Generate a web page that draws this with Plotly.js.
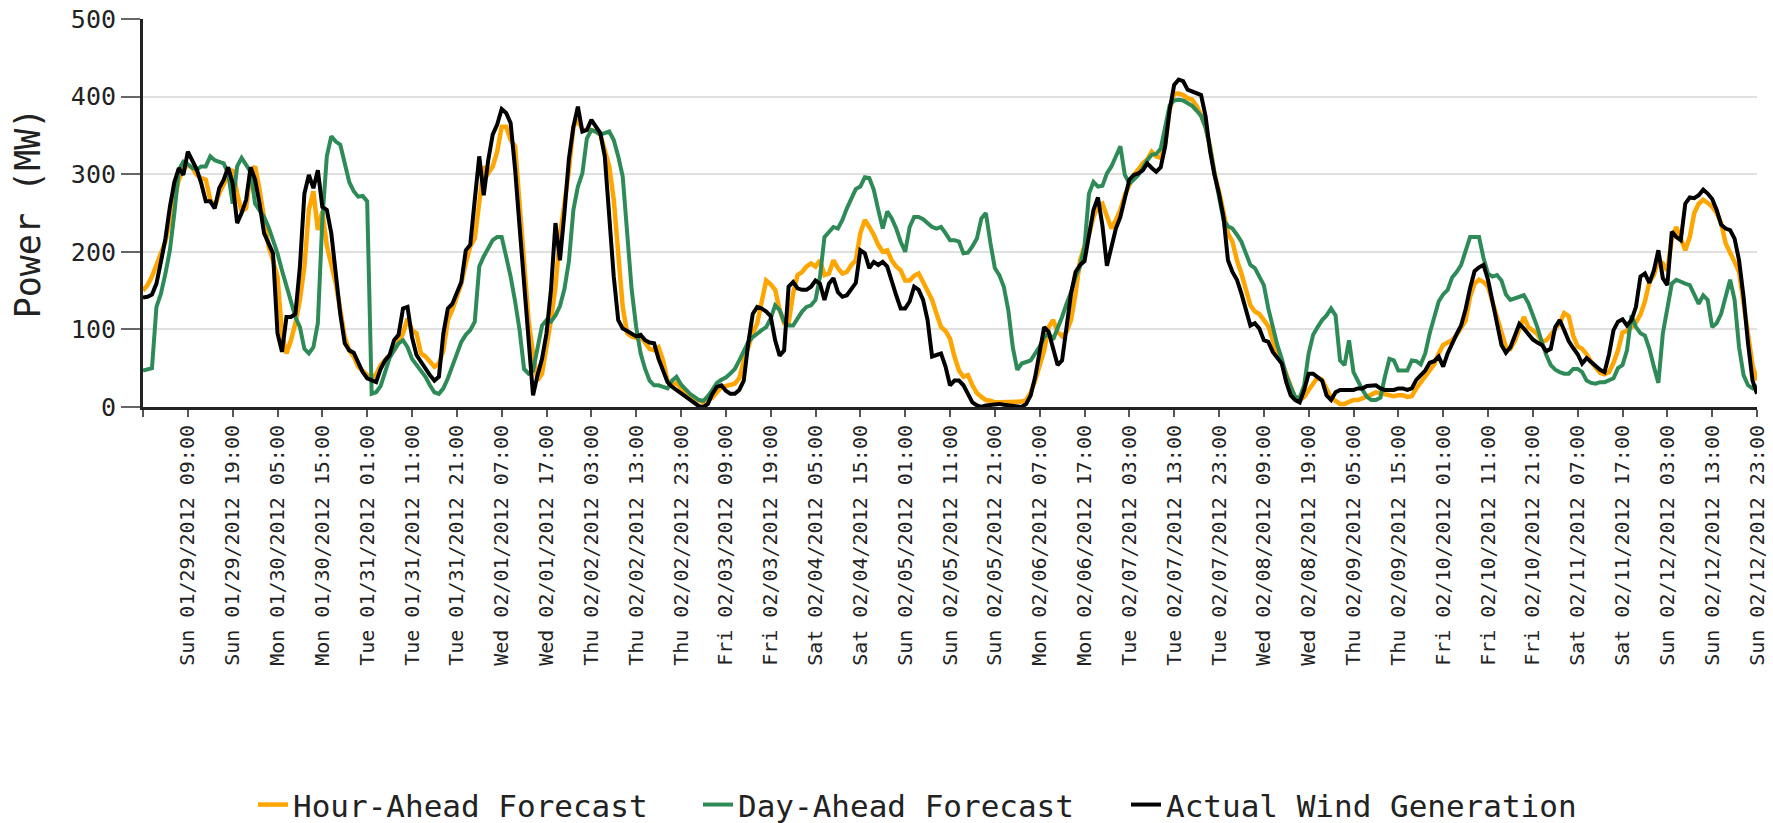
<!DOCTYPE html>
<html>
<head>
<meta charset="utf-8">
<script src="https://cdn.plot.ly/plotly-3.0.1.min.js"></script>
<style>
html,body{margin:0;padding:0;background:#ffffff;}
#chart{width:1773px;height:823px;}
</style>
</head>
<body>
<div id="chart"></div>
<script>
// Hourly series, first value at Sat 01/28/2012 23:00, last at Sun 02/12/2012 23:00
const hourAhead = [
150,157,168,183,198,213,241,267,293,306,
312,308,299,295,293,267,258,275,288,299,
306,275,252,256,303,310,280,245,207,189,
168,95,69,86,108,138,181,254,278,228,
252,208,183,159,125,90,73,65,52,46,
41,37,42,54,60,67,73,84,95,114,
99,95,69,65,58,52,56,73,112,125,
142,159,185,207,217,267,310,301,310,329,
361,361,344,336,267,189,112,69,34,43,
77,112,155,220,262,305,361,370,357,357,
357,355,351,331,310,267,198,129,95,91,
89,90,83,75,73,77,60,34,28,31,
24,19,15,11,8,6,8,12,19,26,
27,28,30,37,60,77,95,108,136,163,
158,151,125,108,108,146,170,174,181,185,
181,189,170,172,189,179,172,174,183,189,
224,241,232,222,209,200,202,189,181,176,
163,163,169,172,161,148,138,120,103,98,
88,65,47,39,41,28,18,13,9,8,
6,6,6,6,6,6,7,9,19,34,
52,73,103,112,97,91,97,112,146,189,
207,222,245,259,262,245,230,241,254,273,
286,299,306,314,319,329,323,321,340,383,
404,404,402,398,396,388,376,361,336,301,
278,250,224,213,189,172,151,131,123,120,
112,104,86,67,58,43,24,11,9,13,
22,30,38,35,22,12,8,4,4,6,
9,9,11,13,16,19,18,16,15,14,
15,15,13,14,24,32,39,47,55,69,
80,83,86,93,103,111,142,159,164,161,
155,136,118,98,77,75,85,101,116,103,
99,94,84,86,93,101,108,121,117,92,
78,75,68,58,50,44,42,45,57,73,
96,98,103,109,119,136,161,170,189,185,
176,217,232,217,202,219,250,262,267,263,
258,250,237,211,200,187,174,133,86,54,34
];

const dayAhead = [
47,49,50,129,146,172,202,250,306,316,
313,308,306,310,310,323,318,316,314,301,
262,310,321,312,303,262,254,245,232,215,
198,176,155,133,116,103,75,69,77,108,
241,323,349,342,338,314,290,278,271,272,
265,17,19,27,45,63,73,82,86,77,
62,54,48,39,28,19,17,24,37,52,
69,84,93,99,110,181,194,204,215,219,
219,194,168,136,99,49,43,47,77,105,
112,110,118,130,152,188,254,284,301,346,
357,355,351,353,355,344,323,297,224,151,
103,69,49,34,28,28,26,24,34,39,
29,22,17,13,9,8,14,22,31,35,
38,43,49,60,73,84,90,95,99,103,
114,131,125,110,105,105,114,123,129,131,
138,168,219,226,232,230,241,256,269,281,
284,296,295,280,254,230,252,243,230,213,
200,232,245,245,242,237,232,230,232,224,
215,215,213,198,199,207,217,243,250,212,
179,170,155,125,77,48,56,58,60,69,
78,90,95,87,101,116,133,148,168,181,
207,275,290,284,285,301,310,323,336,299,
288,293,299,308,318,325,326,333,361,389,
395,396,395,392,388,382,375,360,335,301,
271,241,233,230,222,213,198,183,179,168,
157,127,103,80,62,41,26,13,12,28,
69,93,103,112,118,127,118,60,54,86,
45,32,22,13,9,9,12,39,62,60,
47,47,47,60,59,55,69,95,114,136,
145,151,167,174,183,203,219,219,219,192,
172,168,170,163,145,138,140,142,144,134,
120,103,84,67,54,48,45,43,43,49,
49,45,34,31,30,32,32,34,37,50,
54,73,118,103,95,92,75,52,31,95,
129,159,164,161,159,157,146,133,144,138,
103,108,120,142,164,138,77,41,28,24,28
];

const actualGeneration = [
141,142,145,159,187,217,258,290,308,299,
329,316,306,288,265,265,256,282,293,309,
288,237,250,267,309,293,262,224,211,198,
95,71,116,116,120,181,275,299,282,305,
258,254,224,172,120,82,73,70,57,45,
37,34,32,49,60,67,86,93,127,129,
90,67,58,49,41,34,39,95,127,133,
146,161,202,209,267,323,273,318,351,364,
384,379,366,306,232,159,77,15,41,62,
95,151,237,189,250,320,361,387,355,357,
370,361,353,323,250,168,112,101,98,95,
91,93,86,83,82,62,47,32,26,22,
17,14,9,6,1,0,4,17,26,28,
21,17,17,22,34,82,120,129,127,123,
117,86,66,73,155,161,153,151,151,155,
163,159,138,159,166,148,142,144,153,160,
202,198,179,187,183,187,181,161,144,127,
127,136,155,151,138,112,65,67,69,52,
28,34,34,28,17,6,2,0,2,3,
4,4,3,2,2,1,0,4,15,39,
73,103,97,73,54,60,99,146,174,183,
188,224,254,270,234,182,209,230,245,267,
293,299,301,305,314,308,303,309,336,383,
415,422,420,409,407,404,402,375,330,299,
275,245,189,174,164,146,127,105,108,101,
86,84,71,63,56,32,15,9,6,22,
43,43,39,34,15,9,19,22,22,22,
22,24,24,27,28,28,24,22,22,22,
24,24,22,24,35,41,47,57,59,65,
52,69,83,94,105,126,153,175,180,183,
164,138,108,80,70,77,94,107,101,93,
87,83,80,72,75,103,112,99,85,76,
68,56,63,58,53,48,45,68,99,110,
113,105,112,129,168,172,160,176,202,166,
157,226,219,215,262,270,269,273,280,275,
268,254,235,230,228,217,189,142,82,34,17
];

const seriesNames = ['Hour-Ahead Forecast', 'Day-Ahead Forecast', 'Actual Wind Generation'];
const yTickValues = [0, 100, 200, 300, 400, 500];
const dayNames = ['Sun', 'Mon', 'Tue', 'Wed', 'Thu', 'Fri', 'Sat'];

const startMs = Date.UTC(2012, 0, 28, 23, 0, 0);
const hourMs = 3600000;
const times = actualGeneration.map(function (_, i) { return startMs + i * hourMs; });

function pad(n) { return String(n).padStart(2, '0'); }
function fmt(ms) {
  const d = new Date(ms);
  return dayNames[d.getUTCDay()] + ' ' + pad(d.getUTCMonth() + 1) + '/' + pad(d.getUTCDate()) + '/' +
    d.getUTCFullYear() + ' ' + pad(d.getUTCHours()) + ':' + pad(d.getUTCMinutes());
}
const tickVals = [], tickText = [];
for (let i = 0; i < times.length; i += 10) {
  tickVals.push(times[i]);
  tickText.push(i === 0 ? '' : fmt(times[i]));
}

const FONT = 'DejaVu Sans Mono, Liberation Mono, monospace';

const traces = [
  { x: times, y: hourAhead, name: seriesNames[0], type: 'scatter', mode: 'lines',
    line: { color: '#FFA500', width: 4.5 }, legendwidth: 400 },
  { x: times, y: dayAhead, name: seriesNames[1], type: 'scatter', mode: 'lines',
    line: { color: '#2E8B57', width: 4 }, legendwidth: 383 },
  { x: times, y: actualGeneration, name: seriesNames[2], type: 'scatter', mode: 'lines',
    line: { color: '#000000', width: 4 } }
];

const layout = {
  width: 1773, height: 823,
  margin: { l: 143, r: 16, t: 19, b: 416, autoexpand: false },
  paper_bgcolor: '#ffffff', plot_bgcolor: '#ffffff',
  font: { family: FONT, color: '#222222' },
  hovermode: false,
  showlegend: true,
  legend: {
    orientation: 'h', xref: 'container', yref: 'container',
    x: 0.1427, xanchor: 'left', y: 0.022, yanchor: 'middle',
    font: { family: FONT, size: 31, color: '#222222' },
    bgcolor: 'rgba(0,0,0,0)', traceorder: 'normal'
  },
  xaxis: {
    type: 'date', range: [times[0], times[times.length - 1]],
    tickmode: 'array', tickvals: tickVals, ticktext: tickText,
    tickangle: -90, tickfont: { family: FONT, size: 20, color: '#222222' },
    ticks: 'outside', ticklen: 7, tickwidth: 2, tickcolor: '#555555',
    showline: true, linecolor: '#222222', linewidth: 3,
    showgrid: false, zeroline: false, automargin: false
  },
  yaxis: {
    range: [0, 500], tickmode: 'array', tickvals: yTickValues,
    ticks: 'outside', ticklen: 19, tickwidth: 2, tickcolor: '#666666',
    tickfont: { family: FONT, size: 25, color: '#222222' },
    showline: true, linecolor: '#222222', linewidth: 3,
    showgrid: true, gridcolor: '#e0e0e0', gridwidth: 2, zeroline: false,
    title: { text: 'Power (MW)', font: { family: FONT, size: 35, color: '#222222' }, standoff: 20 },
    automargin: false
  }
};

Plotly.newPlot('chart', traces, layout, { displayModeBar: false, staticPlot: true });
</script>
</body>
</html>
